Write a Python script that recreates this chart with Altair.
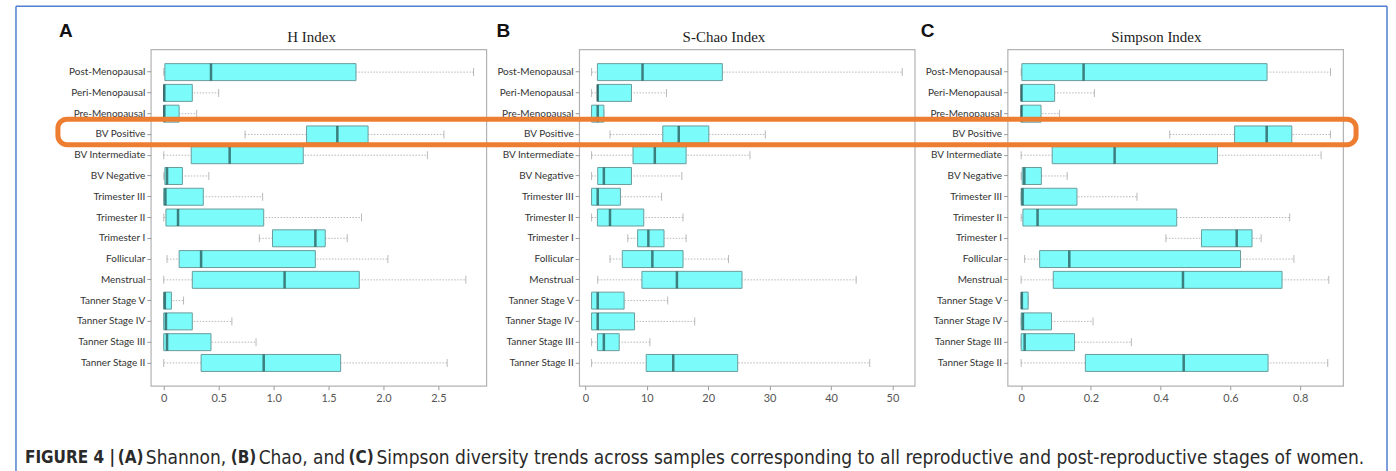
import altair as alt
import pandas as pd

cats = ["Post-Menopausal", "Peri-Menopausal", "Pre-Menopausal", "BV Positive",
        "BV Intermediate", "BV Negative", "Trimester III", "Trimester II",
        "Trimester I", "Follicular", "Menstrual", "Tanner Stage V",
        "Tanner Stage IV", "Tanner Stage III", "Tanner Stage II"]

# Panel A: H (Shannon) index
H_lo = [0.0, 0.0, 0.0, 0.74, 0.0, 0.0, 0.0, 0.0, 0.87, 0.03, 0.0, 0.0, 0.0, 0.0, 0.0]
H_q1 = [0.01, 0.0, 0.0, 1.30, 0.25, 0.01, 0.0, 0.02, 0.99, 0.14, 0.26, 0.0, 0.0, 0.0, 0.34]
H_med = [0.43, 0.005, 0.005, 1.58, 0.60, 0.03, 0.015, 0.13, 1.38, 0.34, 1.10, 0.01, 0.02, 0.03, 0.91]
H_q3 = [1.75, 0.26, 0.14, 1.86, 1.27, 0.17, 0.36, 0.91, 1.47, 1.38, 1.78, 0.07, 0.26, 0.43, 1.61]
H_hi = [2.82, 0.50, 0.30, 2.55, 2.40, 0.41, 0.90, 1.80, 1.67, 2.04, 2.75, 0.18, 0.62, 0.84, 2.58]

# Panel B: S-Chao index
S_lo = [1.0, 1.0, 1.0, 4.0, 1.0, 1.0, 1.0, 1.0, 6.9, 4.0, 2.0, 1.0, 1.0, 1.0, 1.0]
S_q1 = [1.95, 1.95, 1.0, 12.6, 7.75, 2.0, 1.0, 1.95, 8.5, 6.0, 9.2, 1.0, 1.0, 1.95, 9.9]
S_med = [9.3, 2.0, 2.0, 15.2, 11.3, 3.0, 2.0, 4.0, 10.25, 10.9, 14.9, 2.0, 2.0, 3.0, 14.3]
S_q3 = [22.3, 7.5, 3.0, 20.1, 16.4, 7.5, 5.7, 9.5, 12.8, 15.9, 25.5, 6.3, 8.0, 5.5, 24.8]
S_hi = [51.6, 13.2, 3.0, 29.3, 26.8, 15.7, 12.4, 15.9, 16.4, 23.3, 44.1, 13.4, 17.8, 10.5, 46.3]

# Panel C: Simpson index
Si_lo = [0.0, 0.0, 0.0, 0.426, 0.0, 0.0, 0.0, 0.0, 0.415, 0.01, 0.0, 0.0, 0.0, 0.0, 0.0]
Si_q1 = [0.002, 0.0, 0.0, 0.612, 0.089, 0.003, 0.0, 0.005, 0.517, 0.053, 0.092, 0.0, 0.0, 0.0, 0.184]
Si_med = [0.179, 0.001, 0.001, 0.704, 0.268, 0.009, 0.004, 0.047, 0.618, 0.138, 0.464, 0.002, 0.005, 0.01, 0.466]
Si_q3 = [0.705, 0.096, 0.057, 0.776, 0.563, 0.058, 0.16, 0.446, 0.662, 0.629, 0.748, 0.02, 0.087, 0.153, 0.708]
Si_hi = [0.887, 0.21, 0.11, 0.887, 0.86, 0.132, 0.332, 0.77, 0.688, 0.782, 0.882, 0.02, 0.206, 0.316, 0.879]

titles = ["H Index", "S-Chao Index", "Simpson Index"]
letters = ["A", "B", "C"]
ticksA = [0, 0.5, 1.0, 1.5, 2.0, 2.5]
ticksB = [0, 10, 20, 30, 40, 50]
ticksC = [0, 0.2, 0.4, 0.6, 0.8]

caption_parts = [("FIGURE 4 |", True), ("(A)", True), ("Shannon,", False), ("(B)", True),
                 ("Chao, and", False), ("(C)", True),
                 ("Simpson diversity trends across samples corresponding to all reproductive and post-reproductive stages of women.", False)]
caption_x = [-126, -33, -5, 80, 108, 198, 226]

W, H = 336, 337
one = pd.DataFrame({"k": [0]})


def panel(lo, q1, med, q3, hi, domain, ticks, title, letter, title_x, letter_x, fmt):
    df = pd.DataFrame({"cat": cats, "lo": lo, "q1": q1, "med": med, "q3": q3, "hi": hi})
    xs = alt.Scale(domain=domain, nice=False, zero=False)
    ys = alt.Scale(paddingInner=0, paddingOuter=0.6)
    base = alt.Chart(df).encode(
        y=alt.Y("cat:N", sort=cats, scale=ys,
                axis=alt.Axis(title=None, domain=False, tickSize=4, tickColor="#9a9a9a",
                              labelFont="Lato", labelFontSize=10, labelColor="#333333",
                              labelPadding=2, labelLimit=200))
    )
    xaxis = alt.Axis(title=None, values=ticks, domain=False, grid=False, tickSize=4,
                     tickColor="#9a9a9a", labelFont="Lato", labelFontSize=11,
                     labelColor="#555555", labelPadding=3,
                     labelExpr="datum.value == 0 ? '0' : format(datum.value, '%s')" % fmt)
    whisk = base.mark_rule(color="#b8b8b8", strokeDash=[1.5, 1.5], strokeWidth=1).encode(
        x=alt.X("lo:Q", scale=xs, axis=xaxis), x2="hi:Q")
    cap_lo = base.mark_tick(color="#9c9c9c", size=8, thickness=1).encode(x=alt.X("lo:Q", scale=xs))
    cap_hi = base.mark_tick(color="#9c9c9c", size=8, thickness=1).encode(x=alt.X("hi:Q", scale=xs))
    box = base.mark_bar(size=17, color="#7cfbfb", stroke="#6b9c9c", strokeWidth=1).encode(
        x=alt.X("q1:Q", scale=xs), x2="q3:Q")
    medm = base.mark_tick(color="#1f4a4a", size=17, thickness=2.5).encode(x=alt.X("med:Q", scale=xs))
    ttl = alt.Chart(pd.DataFrame({"t": [title]})).mark_text(
        font="Liberation Serif", fontSize=15, color="#222222", baseline="middle").encode(
        text="t:N", x=alt.value(title_x), y=alt.value(-12))
    let = alt.Chart(pd.DataFrame({"t": [letter]})).mark_text(
        font="Liberation Sans", fontSize=19, fontWeight="bold", color="#111111",
        baseline="middle").encode(text="t:N", x=alt.value(letter_x), y=alt.value(-18))
    return [whisk, cap_lo, cap_hi, box, medm, ttl, let]


layersA = panel(H_lo, H_q1, H_med, H_q3, H_hi, [-0.118, 2.936], ticksA, titles[0], letters[0], 161, -85, ".1f")
layersB = panel(S_lo, S_q1, S_med, S_q3, S_hi, [-1.02, 53.63], ticksB, titles[1], letters[1], 145, -76, "d")
layersC = panel(Si_lo, Si_q1, Si_med, Si_q3, Si_hi, [-0.039, 0.923], ticksC, titles[2], letters[2], 149, -80, ".1f")

# outer blue frame (in panel A coordinates)
blue = "#4f7fd0"
frame_left = alt.Chart(one).mark_rule(color=blue, strokeWidth=1.5).encode(
    x=alt.value(-135), y=alt.value(-43), y2=alt.value(423))
frame_top = alt.Chart(one).mark_rule(color=blue, strokeWidth=1.5).encode(
    x=alt.value(-135), x2=alt.value(1238), y=alt.value(-43))
frame_right = alt.Chart(one).mark_rule(color=blue, strokeWidth=1.5).encode(
    x=alt.value(1238), y=alt.value(-43), y2=alt.value(423))

cap_layers = []
for (txt, bold), cx in zip(caption_parts, caption_x):
    cap_layers.append(
        alt.Chart(pd.DataFrame({"t": [txt]})).mark_text(
            font="DejaVu Sans Condensed",
            fontSize=17 if bold else 19, fontWeight="bold" if bold else "normal", color="#2a2a2a",
            align="left", baseline="middle").encode(text="t:N", x=alt.value(cx), y=alt.value(409)))

# orange highlight (in panel C coordinates, drawn last)
orange = alt.Chart(one).mark_rect(fillOpacity=0, stroke="#ED7D31", strokeWidth=5, cornerRadius=9).encode(
    x=alt.value(-951), x2=alt.value(349), y=alt.value(70), y2=alt.value(95.5))

A = alt.layer(*layersA, frame_left, frame_top, frame_right, *cap_layers).properties(width=W, height=H)
B = alt.layer(*layersB).properties(width=W, height=H)
C = alt.layer(*layersC, orange).properties(width=W, height=H)

chart = alt.hconcat(A, B, C, spacing=93, bounds="flush").properties(
    padding={"left": 14, "top": 4, "right": 7, "bottom": 0},
    background="white"
).configure_view(stroke="#b3b3b3", strokeWidth=1.2)

chart.save("out.html", embed_options={"renderer": "svg", "actions": False})
